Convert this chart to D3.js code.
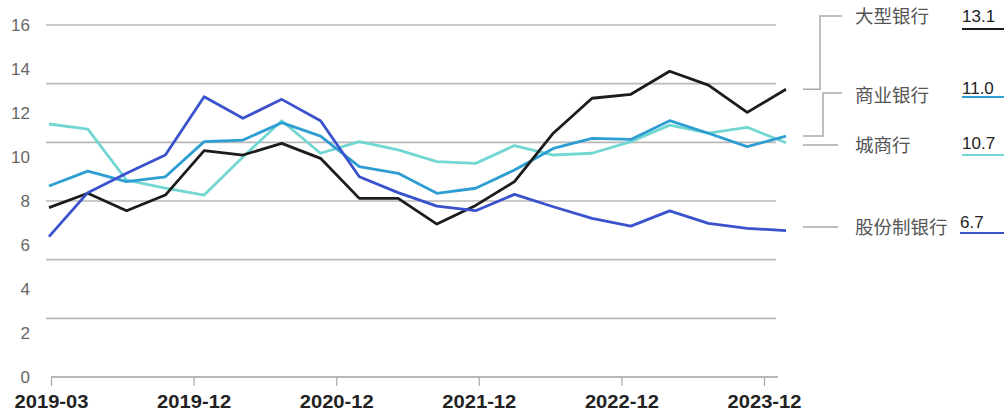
<!DOCTYPE html>
<html>
<head>
<meta charset="utf-8">
<script src="https://cdn.jsdelivr.net/npm/d3@7"></script>
<style>
  body { margin: 0; background: #fff; }
  svg { display: block; font-family: "Liberation Sans", Arial, "Noto Sans CJK SC", sans-serif; }
</style>
</head>
<body>
<svg id="chart" width="1004" height="417"></svg>
<script>
// quarterly data 2019Q1 .. 2023Q4
var quarters = d3.range(20);
var tickLabels = ["2019-03", "2019-12", "2020-12", "2021-12", "2022-12", "2023-12"];
var yLabels = [0, 2, 4, 6, 8, 10, 12, 14, 16];

var seriesNames = ["大型银行", "商业银行", "城商行", "股份制银行"];
var seriesColors = ["#1c1c1c", "#2e9ed2", "#72d7d3", "#3a52cc"];
var lastLabels = ["13.1", "11.0", "10.7", "6.7"];

var bigBanks   = [7.7, 8.35, 7.56, 8.27, 10.29, 10.09, 10.62, 9.94, 8.12, 8.12, 6.95, 7.8, 8.88, 11.08, 12.67, 12.85, 13.9, 13.27, 12.03, 13.08];
var commBanks  = [8.68, 9.36, 8.88, 9.1, 10.7, 10.77, 11.56, 10.95, 9.56, 9.26, 8.35, 8.58, 9.41, 10.39, 10.85, 10.8, 11.65, 11.08, 10.47, 10.95];
var cityBanks  = [11.5, 11.27, 8.95, 8.58, 8.27, 10.0, 11.65, 10.17, 10.7, 10.32, 9.79, 9.71, 10.52, 10.09, 10.17, 10.7, 11.45, 11.08, 11.35, 10.65];
var jointBanks = [6.38, 8.38, 9.26, 10.09, 12.74, 11.76, 12.62, 11.65, 9.1, 8.38, 7.77, 7.56, 8.3, 7.74, 7.21, 6.86, 7.55, 6.98, 6.76, 6.65];

var allSeries = [bigBanks, commBanks, cityBanks, jointBanks];

var svg = d3.select("#chart");

var x = d3.scaleLinear().domain([0, 19]).range([49, 786]);
var y = d3.scaleLinear().domain([0, 16]).range([377, 25]);
var xt = d3.scalePoint().domain(tickLabels).range([51, 764]);

// grid lines (6 equal bands, independent of the labels)
var gridVals = d3.range(1, 7).map(function(i) { return i * 16 / 6; });
svg.append("g").selectAll("line")
  .data(gridVals)
  .enter().append("line")
    .attr("x1", 46).attr("x2", 776)
    .attr("y1", function(d) { return y(d); })
    .attr("y2", function(d) { return y(d); })
    .attr("stroke", "#b8b8b8").attr("stroke-width", 1.6);

// y labels
svg.append("g").selectAll("text")
  .data(yLabels)
  .enter().append("text")
    .attr("x", 30).attr("y", function(d) { return y(d) + 6; })
    .attr("text-anchor", "end")
    .attr("font-size", 17).attr("fill", "#666")
    .text(function(d) { return d; });

// x axis
var xAxis = d3.axisBottom(xt).tickSize(9).tickPadding(9);
var gx = svg.append("g").attr("transform", "translate(0,377)").call(xAxis);
gx.select(".domain").remove();
gx.append("line").attr("x1", 51).attr("x2", 778).attr("stroke", "#b8b8b8").attr("stroke-width", 2);
gx.selectAll(".tick line").attr("stroke", "#aaa").attr("stroke-width", 1.2);
gx.selectAll(".tick text").attr("font-size", 18).attr("fill", "#222")
  .attr("font-family", "Liberation Sans, Arial, sans-serif").attr("font-weight", "bold")
  .attr("textLength", 74).attr("lengthAdjust", "spacingAndGlyphs");

// lines
var line = d3.line().x(function(d, i) { return x(i); }).y(function(d) { return y(d); });
var order = [2, 1, 0, 3];
order.forEach(function(k) {
  svg.append("path")
    .datum(allSeries[k])
    .attr("d", line)
    .attr("fill", "none")
    .attr("stroke", seriesColors[k])
    .attr("stroke-width", 2.8)
    .attr("stroke-linejoin", "round");
});

// right-side labels
var labelY = [16, 95, 145, 227];
var g = svg.append("g");
var conn = "#aaa";
// connectors
var endY = allSeries.map(function(s) { return y(s[s.length - 1]); });
g.append("path").attr("fill", "none").attr("stroke", conn).attr("stroke-width", 1.5)
  .attr("d", "M803," + endY[0] + "H820V" + labelY[0] + "H842");
g.append("path").attr("fill", "none").attr("stroke", conn).attr("stroke-width", 1.5)
  .attr("d", "M803," + endY[1] + "H823V" + (labelY[1] - 2) + "H842");
g.append("path").attr("fill", "none").attr("stroke", conn).attr("stroke-width", 1.5)
  .attr("d", "M803," + labelY[2] + "H838");
g.append("path").attr("fill", "none").attr("stroke", conn).attr("stroke-width", 1.5)
  .attr("d", "M803," + labelY[3] + "H838");

seriesNames.forEach(function(name, k) {
  g.append("text")
    .attr("x", 855).attr("y", labelY[k] + 6.5)
    .attr("font-size", 18.5).attr("fill", "#555")
    .attr("font-family", "Noto Sans CJK SC, sans-serif")
    .text(name);
});

var valY = [16, 88, 143, 222];
var underY = [29, 97, 155, 233];
lastLabels.forEach(function(v, k) {
  var tx = k === 3 ? 960 : 962;
  g.append("text")
    .attr("x", tx).attr("y", valY[k] + 6)
    .attr("font-size", 17).attr("fill", "#222")
    .text(v);
  g.append("line")
    .attr("x1", tx).attr("x2", 1004)
    .attr("y1", underY[k]).attr("y2", underY[k])
    .attr("stroke", seriesColors[k]).attr("stroke-width", 2);
});
</script>
</body>
</html>
